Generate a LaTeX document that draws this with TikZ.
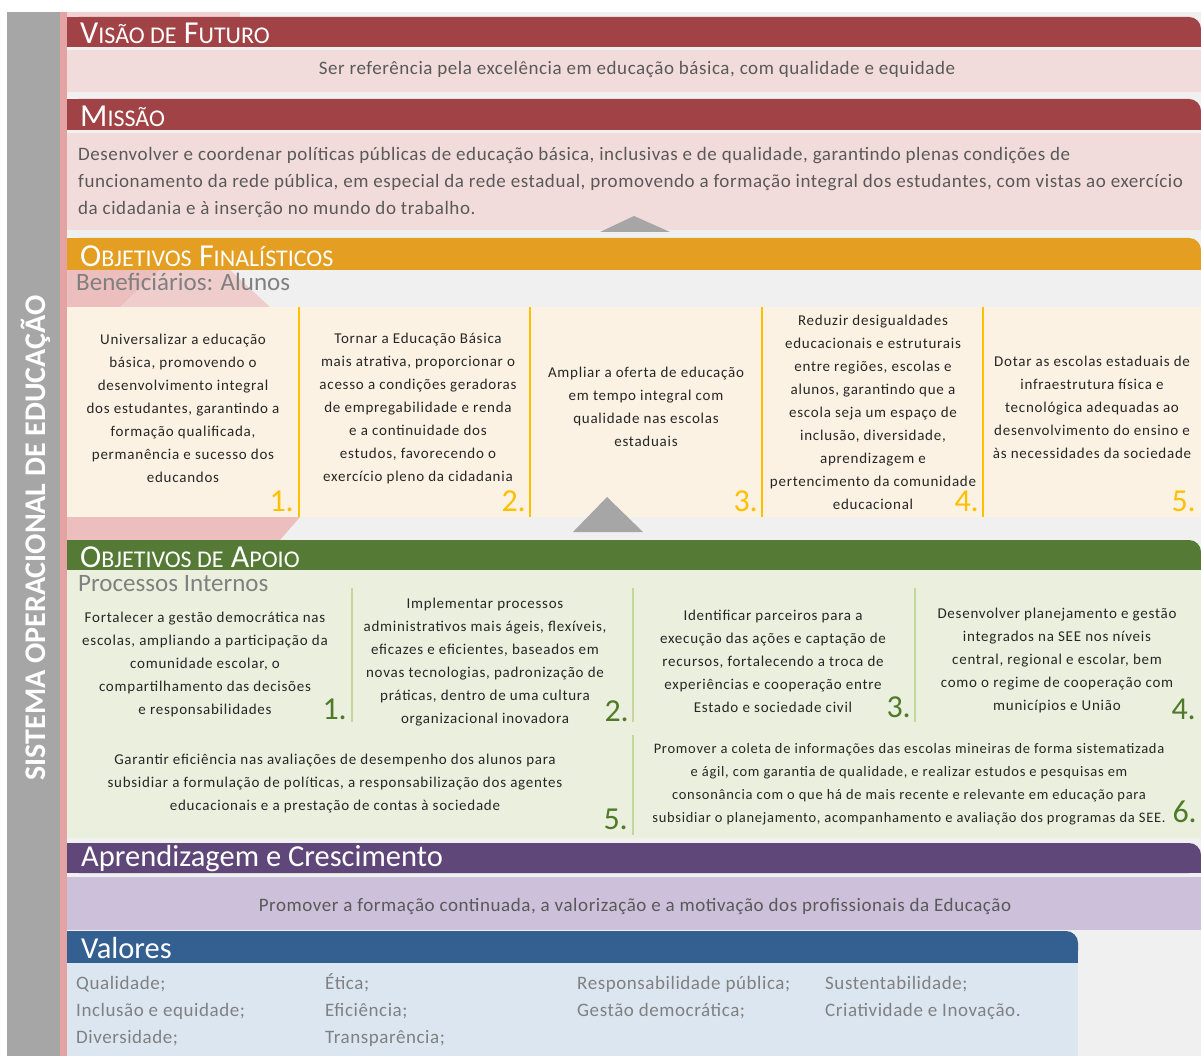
\documentclass[tikz,border=0pt]{standalone}
\usepackage{fontspec}
\setmainfont{Carlito}
\newfontfamily\boxfont[LetterSpace=5]{Carlito}
\newfontfamily\bodyfont[LetterSpace=3]{Carlito}
\definecolor{redH}{HTML}{A14346}
\definecolor{pinkB}{HTML}{F2DCDB}
\definecolor{orgH}{HTML}{E49E21}
\definecolor{creamB}{HTML}{FCF2E4}
\definecolor{orgN}{HTML}{FFC000}
\definecolor{grnH}{HTML}{557A35}
\definecolor{grnB}{HTML}{EBF0DE}
\definecolor{grnN}{HTML}{4F7A28}
\definecolor{grnL}{HTML}{C4D79B}
\definecolor{purH}{HTML}{5F4879}
\definecolor{purB}{HTML}{CCC0DA}
\definecolor{bluH}{HTML}{345F91}
\definecolor{bluB}{HTML}{DCE6F1}
\definecolor{bgG}{HTML}{F0F0F0}
\definecolor{barG}{HTML}{A6A6A6}
\definecolor{pinkS}{HTML}{E4A3A3}
\definecolor{txtG}{HTML}{595959}
\definecolor{txtL}{HTML}{808080}
\newcommand\smc[1]{{\fontsize{24}{24}\selectfont #1}}
\tikzset{
  hdrtxt/.style={anchor=base west, inner sep=0pt, text depth=0pt, text=white, font=\fontsize{32}{32}\selectfont},
  hdrplain/.style={anchor=base west, inner sep=0pt, text depth=0pt, text=white, font=\fontsize{30.5}{30.5}\selectfont},
  bodytxt/.style={anchor=base west, inner sep=0pt, text=txtG, font=\bodyfont\fontsize{19}{27}\selectfont},
  subtxt/.style={anchor=base west, inner sep=0pt, text height=17pt, text=txtL, font=\fontsize{25}{25}\selectfont},
  boxtxt/.style={align=center, inner sep=0pt, text=black!85, font=\boxfont\fontsize{15}{23}\selectfont},
  valtxt/.style={anchor=base west, inner sep=0pt, text=txtL, font=\bodyfont\fontsize{19}{27}\selectfont},
  numF/.style={anchor=base east, inner sep=0pt, text=orgN, font=\fontsize{32}{32}\selectfont},
  numA/.style={anchor=base east, inner sep=0pt, text=grnN, font=\fontsize{32}{32}\selectfont},
  sepF/.style={draw=orgN, line width=2pt},
  sepA/.style={draw=grnL, line width=1.2pt},
  tri/.style={fill=barG}
}
\begin{document}
\begin{tikzpicture}[x=1pt,y=-1pt]
\useasboundingbox (0,0) rectangle (1201,1056);
\fill[white] (0,0) rectangle (1201,1056);
% backgrounds
\fill[bgG] (67,12) rectangle (1201,1056);
\fill[barG] (7,12) rectangle (60,1056);
\fill[pinkS] (60,12) rectangle (67,1056);
\fill[pinkS!50] (67,12) rectangle (240,17);
% pink decorations
\fill[pinkS!70] (67,270) -- (160,270) -- (120,307) -- (67,307) -- cycle;
\fill[pinkS!55] (160,270) -- (230,270) -- (270,307) -- (120,307) -- cycle;
\fill[pinkS!70] (67,517) -- (300,517) -- (280,540) -- (67,540) -- cycle;
% Visao de Futuro
\fill[redH, rounded corners=12pt] (67,17) rectangle (1201,47);
\fill[redH] (67,17) rectangle (1180,47);
\fill[redH] (67,32) rectangle (1201,47);
\node[hdrtxt] (visaoH) at (80,44) {V\smc{ISÃO DE} F\smc{UTURO}};
\fill[pinkB] (67,50) rectangle (1201,92);
\node[bodytxt, anchor=base] (visaoT) at (637,75) {Ser referência pela excelência em educação básica, com qualidade e equidade};
% Missao
\fill[redH, rounded corners=12pt] (67,99) rectangle (1201,130);
\fill[redH] (67,99) rectangle (1180,130);
\fill[redH] (67,114) rectangle (1201,130);
\node[hdrtxt] (missaoH) at (80,127) {M\smc{ISSÃO}};
\fill[pinkB] (67,133) rectangle (1201,230);
\node[bodytxt] (m1) at (78,161) {Desenvolver e coordenar políticas públicas de educação básica, inclusivas e de qualidade, garantindo plenas condições de};
\node[bodytxt] (m2) at (78,188) {funcionamento da rede pública, em especial da rede estadual, promovendo a formação integral dos estudantes, com vistas ao exercício};
\node[bodytxt] (m3) at (78,215) {da cidadania e à inserção no mundo do trabalho.};
\fill[tri] (600,232) -- (634,216) -- (670,232) -- cycle;
% Objetivos Finalisticos
\fill[orgH, rounded corners=12pt] (67,238) rectangle (1201,270);
\fill[orgH] (67,238) rectangle (1180,270);
\fill[orgH] (67,253) rectangle (1201,270);
\node[hdrtxt] (finH) at (80,267) {O\smc{BJETIVOS} F\smc{INALÍSTICOS}};
\node[subtxt] (benef) at (76,291) {Beneficiários: Alunos};
\fill[creamB] (67,307) rectangle (1201,517);
\draw[sepF] (299,307) -- (299,517);
\draw[sepF] (530,307) -- (530,517);
\draw[sepF] (762,307) -- (762,517);
\draw[sepF] (983,307) -- (983,517);
\node[boxtxt] (f1) at (183,408) {Universalizar a educação\\básica, promovendo o\\desenvolvimento integral\\dos estudantes, garantindo a\\formação qualificada,\\permanência e sucesso dos\\educandos};
\node[boxtxt] (f2) at (418,408) {Tornar a Educação Básica\\mais atrativa, proporcionar o\\acesso a condições geradoras\\de empregabilidade e renda\\e a continuidade dos\\estudos, favorecendo o\\exercício pleno da cidadania};
\node[boxtxt] (f3) at (646,407) {Ampliar a oferta de educação\\em tempo integral com\\qualidade nas escolas\\estaduais};
\node[boxtxt] (f4) at (873,412) {Reduzir desigualdades\\educacionais e estruturais\\entre regiões, escolas e\\alunos, garantindo que a\\escola seja um espaço de\\inclusão, diversidade,\\aprendizagem e\\pertencimento da comunidade\\educacional};
\node[boxtxt] (f5) at (1092,407) {Dotar as escolas estaduais de\\infraestrutura física e\\tecnológica adequadas ao\\desenvolvimento do ensino e\\às necessidades da sociedade};
\node[numF] (nf1) at (294,511) {1.};
\node[numF] (nf2) at (526,511) {2.};
\node[numF] (nf3) at (758,511) {3.};
\node[numF] (nf4) at (979,511) {4.};
\node[numF] (nf5) at (1196,511) {5.};
\fill[tri] (573,532) -- (607,497) -- (643,532) -- cycle;
% Objetivos de Apoio
\fill[grnH, rounded corners=12pt] (67,540) rectangle (1201,570);
\fill[grnH] (67,540) rectangle (1180,570);
\fill[grnH] (67,555) rectangle (1201,570);
\node[hdrtxt] (apoH) at (80,567) {O\smc{BJETIVOS DE} A\smc{POIO}};
\fill[grnB] (67,570) rectangle (1201,838);
\node[subtxt] (proc) at (78,591) {Processos Internos};
\draw[sepA] (352,588) -- (352,722);
\draw[sepA] (633,588) -- (633,722);
\draw[sepA] (915,588) -- (915,722);
\draw[sepA] (633,735) -- (633,835);
\node[boxtxt] (a1) at (205,664) {Fortalecer a gestão democrática nas\\escolas, ampliando a participação da\\comunidade escolar, o\\compartilhamento das decisões\\e responsabilidades};
\node[boxtxt] (a2) at (485,662) {Implementar processos\\administrativos mais ágeis, flexíveis,\\eficazes e eficientes, baseados em\\novas tecnologias, padronização de\\práticas, dentro de uma cultura\\organizacional inovadora};
\node[boxtxt] (a3) at (773,661) {Identificar parceiros para a\\execução das ações e captação de\\recursos, fortalecendo a troca de\\experiências e cooperação entre\\Estado e sociedade civil};
\node[boxtxt] (a4) at (1057,660) {Desenvolver planejamento e gestão\\integrados na SEE nos níveis\\central, regional e escolar, bem\\como o regime de cooperação com\\municípios e União};
\node[boxtxt] (a5) at (335,784) {Garantir eficiência nas avaliações de desempenho dos alunos para\\subsidiar a formulação de políticas, a responsabilização dos agentes\\educacionais e a prestação de contas à sociedade};
\node[boxtxt, font=\boxfont\fontsize{14.5}{23}\selectfont] (a6) at (909,784) {Promover a coleta de informações das escolas mineiras de forma sistematizada\\e ágil, com garantia de qualidade, e realizar estudos e pesquisas em\\consonância com o que há de mais recente e relevante em educação para\\subsidiar o planejamento, acompanhamento e avaliação dos programas da SEE.};
\node[numA] (na1) at (347,719) {1.};
\node[numA] (na2) at (629,721) {2.};
\node[numA] (na3) at (911,717) {3.};
\node[numA] (na4) at (1196,719) {4.};
\node[numA] (na5) at (628,829) {5.};
\node[numA] (na6) at (1197,822) {6.};
% Aprendizagem e Crescimento
\fill[purH, rounded corners=12pt] (67,843) rectangle (1201,873);
\fill[purH] (67,843) rectangle (1180,873);
\fill[purH] (67,858) rectangle (1201,873);
\node[hdrplain] (aprH) at (81,866) {Aprendizagem e Crescimento};
\fill[purB] (67,877) rectangle (1201,930);
\node[bodytxt, anchor=base] (aprT) at (635,911) {Promover a formação continuada, a valorização e a motivação dos profissionais da Educação};
% Valores
\fill[bluH, rounded corners=12pt] (67,931) rectangle (1078,963);
\fill[bluH] (67,931) rectangle (1058,963);
\fill[bluH] (67,946) rectangle (1078,963);
\node[hdrplain] (valH) at (81,958) {Valores};
\fill[bluB] (67,963) rectangle (1078,1056);
\node[valtxt] (v11) at (76,989) {Qualidade;};
\node[valtxt] (v12) at (76,1016) {Inclusão e equidade;};
\node[valtxt] (v13) at (76,1043) {Diversidade;};
\node[valtxt] (v21) at (325,989) {Ética;};
\node[valtxt] (v22) at (325,1016) {Eficiência;};
\node[valtxt] (v23) at (325,1043) {Transparência;};
\node[valtxt] (v31) at (577,989) {Responsabilidade pública;};
\node[valtxt] (v32) at (577,1016) {Gestão democrática;};
\node[valtxt] (v41) at (825,989) {Sustentabilidade;};
\node[valtxt] (v42) at (825,1016) {Criatividade e Inovação.};
% vertical title
\node[rotate=90, inner sep=0pt, text=white, font=\bfseries\fontsize{30}{30}\selectfont] (sis) at (36,538) {SISTEMA OPERACIONAL DE EDUCAÇÃO};
\end{tikzpicture}
\end{document}
